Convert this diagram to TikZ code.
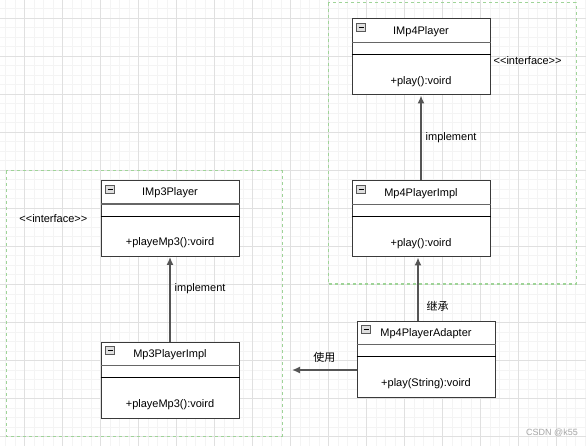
\documentclass[tikz,border=0pt]{standalone}
\usepackage{fontspec}
\setmainfont{Liberation Sans}
\newfontfamily\cjk{Noto Sans CJK SC}
\usetikzlibrary{arrows.meta,positioning}

\definecolor{gridminor}{HTML}{F4F4F4}
\definecolor{gridmajor}{HTML}{E0E0E0}
\definecolor{groupgreen}{HTML}{9FD498}
\definecolor{boxline}{HTML}{3A3A3A}
\definecolor{edgegray}{HTML}{555555}

% one UML class box: name, centre, title, method
\newcommand{\umlclass}[4]{%
  \node[classbox] (#1) at (#2) {};
  \node[classtext] (#1-title) at ([yshift=-13pt]#1.north) {#3};
  \draw[gray!80!black, line width=1.3pt] ([yshift=-24pt]#1.north west) -- ([yshift=-24pt]#1.north east);
  \draw[black, line width=0.9pt] ([yshift=-36pt]#1.north west) -- ([yshift=-36pt]#1.north east);
  \node[classtext] (#1-method) at ([yshift=14pt]#1.south) {#4};
  \node[minusbox] (#1-minus) at ([xshift=9.5pt,yshift=-9pt]#1.north west) {};
  \draw[black, line width=0.8pt] ([xshift=-2.5pt]#1-minus.center) -- ([xshift=2.5pt]#1-minus.center);
}

\begin{document}
\begin{tikzpicture}[x=1pt, y=-1pt,
  classbox/.style={draw=boxline, line width=1pt, fill=white, minimum width=138pt, minimum height=76pt, inner sep=0pt},
  classtext/.style={font=\fontsize{11}{13}\selectfont, inner sep=0pt},
  minusbox/.style={draw=gray!70!black, fill=gray!25, minimum width=9pt, minimum height=8pt, inner sep=0pt, line width=0.6pt},
  lbl/.style={font=\fontsize{11}{13}\selectfont, inner sep=1pt},
  group/.style={draw=groupgreen, line width=1pt, dash pattern=on 3pt off 3pt},
  realize/.style={draw=edgegray, line width=1.4pt, -{Latex[length=8pt,width=7pt]}}]
\useasboundingbox[fill=white] (0,0) rectangle (586,446);

% background grid
\foreach \x in {5.3,14.8,...,586} \draw[gridminor, line width=0.6pt] (\x,0) -- (\x,446);
\foreach \y in {8.8,18.3,...,446} \draw[gridminor, line width=0.6pt] (0,\y) -- (586,\y);
\foreach \x in {24.3,62.3,...,586} \draw[gridmajor, line width=0.8pt] (\x,0) -- (\x,446);
\foreach \y in {18.3,56.3,...,446} \draw[gridmajor, line width=0.8pt] (0,\y) -- (586,\y);

% groups
\draw[group] (328,3) rectangle (576,284);
\draw[group] (6,171) rectangle (282,436);

% classes
\umlclass{imp4}{421,57}{IMp4Player}{+play():voird}
\umlclass{mp4impl}{421,219}{Mp4PlayerImpl}{+play():voird}
\umlclass{imp3}{170,218.5}{IMp3Player}{+playeMp3():voird}
\umlclass{mp3impl}{170,380}{Mp3PlayerImpl}{+playeMp3():voird}
\umlclass{adapter}{426,359}{Mp4PlayerAdapter}{+play(String):voird}

\node[lbl, right=2pt of imp4.east, yshift=-4pt] (imp4-stereo) {<{}<interface>{}>};
\node[lbl, left=12pt of imp3.west] (imp3-stereo) {<{}<interface>{}>};

\coordinate (use-end) at (292,370);

% connectors
\draw[realize] (mp4impl) -- node[lbl, right=3pt] {implement} (imp4);
\draw[realize] (mp3impl) -- node[lbl, right=3pt, pos=0.62] {implement} (imp3);
\draw[realize] ([xshift=-8pt]adapter.north) -- node[lbl, right=7pt, pos=0.22] {\cjk 继承} ([xshift=-3pt]mp4impl.south);
\draw[realize] ([yshift=-11pt]adapter.west) -- node[lbl, above=6pt] {\cjk 使用} (use-end);

\node[font=\fontsize{9}{11}\selectfont, text=gray!70, anchor=east, inner sep=0pt] (mark) at (578,433) {CSDN @k55};
\end{tikzpicture}
\end{document}
